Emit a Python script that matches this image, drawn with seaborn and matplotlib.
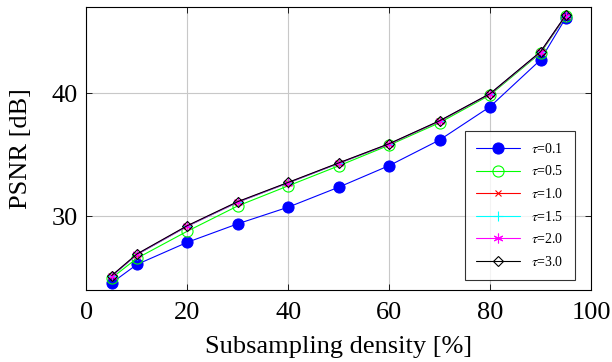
import matplotlib
matplotlib.use("Agg")
import matplotlib.pyplot as plt
import seaborn as sns
import pandas as pd

density = [5, 10, 20, 30, 40, 50, 60, 70, 80, 90, 95]
psnr_t01 = [24.6, 26.1, 27.9, 29.4, 30.75, 32.37, 34.12, 36.2, 38.9, 42.7, 46.1]
psnr_t05 = [25.0, 26.6, 28.8, 30.85, 32.48, 34.1, 35.78, 37.6, 39.85, 43.25, 46.25]
psnr_t10 = [25.15, 26.9, 29.2, 31.15, 32.72, 34.3, 35.86, 37.72, 39.93, 43.32, 46.28]
psnr_t15 = [25.15, 26.9, 29.2, 31.15, 32.72, 34.3, 35.87, 37.73, 39.94, 43.33, 46.29]
psnr_t20 = [25.17, 26.92, 29.22, 31.17, 32.74, 34.32, 35.88, 37.74, 39.95, 43.34, 46.3]
psnr_t30 = [25.2, 26.95, 29.25, 31.2, 32.76, 34.34, 35.9, 37.76, 39.96, 43.36, 46.32]
labels = [r"$\tau$=0.1", r"$\tau$=0.5", r"$\tau$=1.0", r"$\tau$=1.5", r"$\tau$=2.0", r"$\tau$=3.0"]
series = [psnr_t01, psnr_t05, psnr_t10, psnr_t15, psnr_t20, psnr_t30]

sns.set_theme(style="white")
plt.rcParams["font.family"] = ["Liberation Serif", "DejaVu Serif"]
plt.rcParams["mathtext.fontset"] = "stix"
plt.rcParams["text.color"] = "black"
plt.rcParams["axes.labelcolor"] = "black"

fig = plt.figure(figsize=(6.12, 3.62), dpi=100)
ax = fig.add_axes([0.1413, 0.199, 0.8243, 0.782])

styles = [
    dict(color="#0000ff", marker="o", markersize=8, mfc="#0000ff", mec="#0000ff"),
    dict(color="#00ff00", marker="o", markersize=8, mfc="none", mec="#00ff00", mew=0.8),
    dict(color="#ff0000", marker="x", markersize=5, mec="#ff0000", mew=0.8),
    dict(color="#00ffff", marker="+", markersize=7, mec="#00ffff", mew=0.8),
    dict(color="#ff00ff", marker=(6, 2, 0), markersize=7, mec="#ff00ff", mew=0.8),
    dict(color="#000000", marker="D", markersize=5, mfc="none", mec="black", mew=0.8),
]

for vals, lab, st in zip(series, labels, styles):
    df = pd.DataFrame({"density": density, "psnr": vals})
    sns.lineplot(data=df, x="density", y="psnr", ax=ax, label=lab, linewidth=0.8, **st)

ax.set_xlim(0, 100)
ax.set_ylim(24.03, 47.0)
ax.set_xticks([0, 20, 40, 60, 80, 100])
ax.set_yticks([30, 40])
ax.grid(True, color="#c8c8c8", linewidth=0.8)
ax.set_axisbelow(True)
for s in ax.spines.values():
    s.set_color("black")
    s.set_linewidth(0.8)
ax.tick_params(direction="in", length=4, width=0.6, colors="black", labelsize=19,
               top=True, right=True, bottom=True, left=True)
ax.tick_params(axis="x", pad=9)
ax.tick_params(axis="y", pad=6)
ax.set_xlabel("Subsampling density [%]", fontsize=19, labelpad=8)
ax.set_ylabel("PSNR [dB]", fontsize=19, labelpad=14)

leg = ax.legend(loc="lower right", bbox_to_anchor=(0.968, 0.035), frameon=True, fancybox=False,
                edgecolor="black", fontsize=10, handlelength=3.2, labelspacing=0.62,
                borderpad=0.8, handletextpad=0.8, borderaxespad=0)
leg.get_frame().set_linewidth(0.8)
for t in leg.get_texts():
    t.set_color("black")

fig.savefig("out.png", dpi=100)
